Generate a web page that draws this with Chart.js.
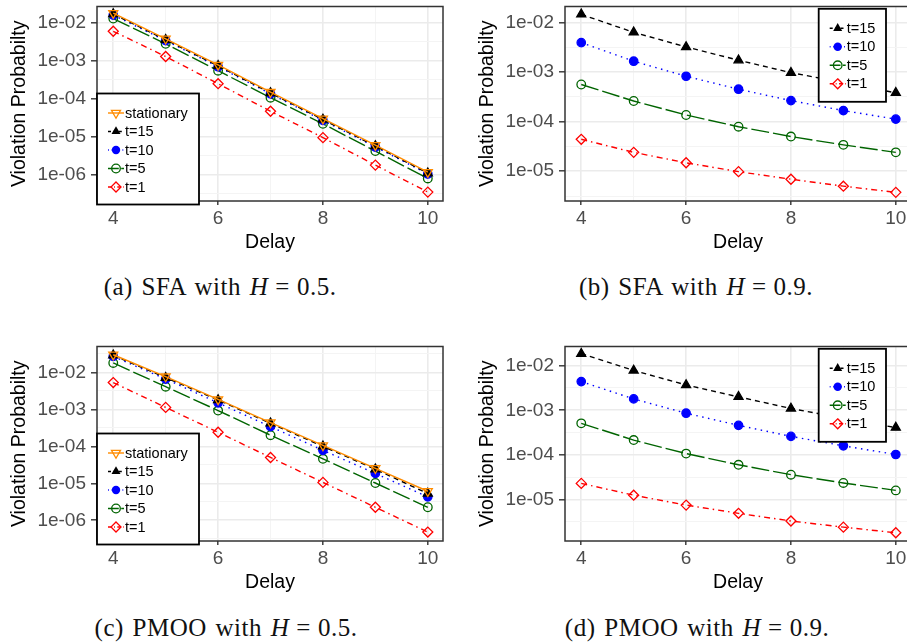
<!DOCTYPE html>
<html lang="en">
<head>
<meta charset="UTF-8">
<title>Violation probability vs delay</title>
<script src="https://cdn.jsdelivr.net/npm/chart.js@4/dist/chart.umd.min.js"></script>
<style>
    html, body { margin: 0; padding: 0; background: #fff; }
    body { width: 907px; height: 643px; position: relative; overflow: hidden; }
    canvas { position: absolute; }
    .cap {
        position: absolute; width: 440px; text-align: center;
        font-family: "Liberation Serif", "DejaVu Serif", serif;
        font-size: 25px; line-height: 28px; color: #111;
        word-spacing: 2px; letter-spacing: 0.5px;
    }
    .cap .eq { margin: 0 7px; }
</style>
</head>
<body>
<canvas id="sfa05" width="453" height="258" style="left:0;top:0"></canvas>
<canvas id="sfa09" width="453" height="258" style="left:468px;top:0"></canvas>
<canvas id="pmoo05" width="453" height="258" style="left:0;top:340px"></canvas>
<canvas id="pmoo09" width="453" height="258" style="left:468px;top:340px"></canvas>

<div class="cap" style="left:0;top:273px">(a) SFA with <i>H</i><span class="eq">=</span>0.5.</div>
<div class="cap" style="left:476px;top:273px">(b) SFA with <i>H</i><span class="eq">=</span>0.9.</div>
<div class="cap" style="left:6px;top:614px">(c) PMOO with <i>H</i><span class="eq">=</span>0.5.</div>
<div class="cap" style="left:477px;top:614px">(d) PMOO with <i>H</i><span class="eq">=</span>0.9.</div>

<script>
// x values (delay)
const delays = [4, 5, 6, 7, 8, 9, 10];

// (a) SFA, H = 0.5
const sfa05Stationary = [1.8e-2, 3.8e-3, 7.8e-4, 1.5e-4, 3.0e-5, 6.0e-6, 1.17e-6];
const sfa05T15 = [1.7e-2, 3.6e-3, 7.4e-4, 1.42e-4, 2.85e-5, 5.7e-6, 1.1e-6];
const sfa05T10 = [1.6e-2, 3.4e-3, 7.0e-4, 1.35e-4, 2.7e-5, 5.4e-6, 1.05e-6];
const sfa05T5  = [1.3e-2, 2.8e-3, 5.5e-4, 1.07e-4, 2.2e-5, 4.2e-6, 8.0e-7];
const sfa05T1  = [6.0e-3, 1.3e-3, 2.5e-4, 4.7e-5, 9.5e-6, 1.8e-6, 3.5e-7];

// (b) SFA, H = 0.9
const sfa09T15 = [1.45e-2, 6.3e-3, 3.2e-3, 1.73e-3, 9.7e-4, 6.1e-4, 3.8e-4];
const sfa09T10 = [3.9e-3, 1.65e-3, 8.2e-4, 4.5e-4, 2.65e-4, 1.67e-4, 1.12e-4];
const sfa09T5  = [5.6e-4, 2.6e-4, 1.36e-4, 7.9e-5, 5.0e-5, 3.4e-5, 2.4e-5];
const sfa09T1  = [4.4e-5, 2.4e-5, 1.48e-5, 9.8e-6, 6.9e-6, 5.0e-6, 3.75e-6];

// (c) PMOO, H = 0.5
const pmoo05Stationary = [3.0e-2, 7.7e-3, 1.85e-3, 4.4e-4, 1.06e-4, 2.55e-5, 6.1e-6];
const pmoo05T15 = [2.9e-2, 7.2e-3, 1.8e-3, 4.2e-4, 1.0e-4, 2.4e-5, 5.3e-6];
const pmoo05T10 = [2.7e-2, 6.6e-3, 1.5e-3, 3.4e-4, 7.8e-5, 1.85e-5, 4.3e-6];
const pmoo05T5  = [1.8e-2, 4.1e-3, 9.3e-4, 2.0e-4, 4.6e-5, 1.02e-5, 2.25e-6];
const pmoo05T1  = [5.3e-3, 1.13e-3, 2.4e-4, 5.0e-5, 1.06e-5, 2.25e-6, 4.8e-7];

// (d) PMOO, H = 0.9
const pmoo09T15 = [1.86e-2, 7.8e-3, 3.7e-3, 2.0e-3, 1.1e-3, 6.6e-4, 4.1e-4];
const pmoo09T10 = [4.4e-3, 1.8e-3, 8.6e-4, 4.6e-4, 2.6e-4, 1.6e-4, 1.02e-4];
const pmoo09T5  = [5.1e-4, 2.15e-4, 1.07e-4, 6.0e-5, 3.6e-5, 2.35e-5, 1.6e-5];
const pmoo09T1  = [2.3e-5, 1.25e-5, 7.5e-6, 4.9e-6, 3.3e-6, 2.4e-6, 1.8e-6];

// tick labels
const yTickValues = [1e-6, 1e-5, 1e-4, 1e-3, 1e-2];
const yTickLabels = ['1e-06', '1e-05', '1e-04', '1e-03', '1e-02'];
const xTickValues = [4, 6, 8, 10];
const xTickLabels = ['4', '6', '8', '10'];

// series look, ggplot-ish
const styles = {
    stationary: { label: 'stationary', color: '#FF8C00', dash: [], marker: 'triangle', rot: 180, r: 5.2, filled: false },
    t15: { label: 't=15', color: '#000000', dash: [5, 4], marker: 'triangle', rot: 0, r: 5.2, filled: true },
    t10: { label: 't=10', color: '#0000FF', dash: [1.5, 4.5], marker: 'circle', rot: 0, r: 4.2, filled: true },
    t5:  { label: 't=5', color: '#006400', dash: [18, 4], marker: 'circle', rot: 0, r: 4.3, filled: false },
    t1:  { label: 't=1', color: '#FF0000', dash: [6, 4, 1.5, 4], marker: 'rectRot', rot: 0, r: 5, filled: false }
};

function series(key, values) {
    const s = styles[key];
    return {
        label: s.label,
        data: delays.map((d, i) => ({ x: d, y: values[i] })),
        borderColor: s.color,
        borderWidth: 1.4,
        borderDash: s.dash,
        pointStyle: s.marker,
        rotation: s.rot,
        pointRadius: s.r,
        pointBorderWidth: 1.3,
        pointBorderColor: s.color,
        pointBackgroundColor: s.filled ? s.color : 'rgba(0,0,0,0)',
        fill: false,
        tension: 0
    };
}

function drawMarker(ctx, s, x, y) {
    ctx.save();
    ctx.setLineDash([]);
    ctx.lineWidth = 1.3;
    ctx.strokeStyle = s.color;
    ctx.fillStyle = s.color;
    ctx.beginPath();
    if (s.marker === 'circle') {
        ctx.arc(x, y, s.r, 0, Math.PI * 2);
    } else if (s.marker === 'triangle') {
        let a = s.rot * Math.PI / 180;
        for (let k = 0; k < 3; k++) {
            const px = x + Math.sin(a) * s.r, py = y - Math.cos(a) * s.r;
            k === 0 ? ctx.moveTo(px, py) : ctx.lineTo(px, py);
            a += Math.PI * 2 / 3;
        }
        ctx.closePath();
    } else {
        ctx.moveTo(x, y - s.r); ctx.lineTo(x + s.r, y);
        ctx.lineTo(x, y + s.r); ctx.lineTo(x - s.r, y);
        ctx.closePath();
    }
    if (s.filled) ctx.fill(); else ctx.stroke();
    ctx.restore();
}

// panel border on top of the data, then the boxed legend
const panelFrame = {
    id: 'panelFrame',
    afterDatasetsDraw(chart, args, opts) {
        const { ctx, chartArea: a } = chart;
        ctx.save();
        ctx.strokeStyle = '#333333';
        ctx.lineWidth = 1.5;
        ctx.strokeRect(a.left, a.top, a.right - a.left, a.bottom - a.top);

        const box = opts.box;
        const bx = a.left + box.x, by = a.top + box.y;
        ctx.fillStyle = '#ffffff';
        ctx.fillRect(bx, by, box.w, box.h);
        ctx.strokeStyle = '#000000';
        ctx.lineWidth = 1.8;
        ctx.strokeRect(bx, by, box.w, box.h);
        ctx.font = '14.5px "Liberation Sans", Arial, sans-serif';
        ctx.textBaseline = 'middle';
        opts.keys.forEach((key, i) => {
            const s = styles[key];
            const y = by + 19.5 + i * 18.5;
            ctx.save();
            ctx.strokeStyle = s.color;
            ctx.lineWidth = 1.4;
            ctx.setLineDash(s.dash.map(v => v * 0.6));
            ctx.beginPath();
            ctx.moveTo(bx + 11, y);
            ctx.lineTo(bx + 27, y);
            ctx.stroke();
            ctx.restore();
            drawMarker(ctx, s, bx + 19, y);
            ctx.fillStyle = '#000000';
            ctx.fillText(s.label, bx + 28, y + 0.5);
        });
        ctx.restore();
    }
};

function isDecade(v) {
    const l = Math.log10(v);
    return Math.abs(l - Math.round(l)) < 1e-6;
}

function makeChart(id, keys, valueSets, yLogMin, yLogMax, box) {
    const yAll = [];
    for (let e = Math.floor(yLogMin * 2) / 2; e <= yLogMax + 1e-9; e += 0.5) {
        if (e >= yLogMin) yAll.push(Math.pow(10, e));
    }
    return new Chart(document.getElementById(id), {
        type: 'line',
        data: { datasets: keys.map((k, i) => series(k, valueSets[i])) },
        plugins: [panelFrame],
        options: {
            responsive: false,
            animation: false,
            events: [],
            layout: { padding: { top: 3, right: 10, left: 0, bottom: 0 } },
            plugins: {
                legend: { display: false },
                tooltip: { enabled: false },
                panelFrame: { keys: keys, box: box }
            },
            scales: {
                x: {
                    type: 'linear',
                    min: 3.69, max: 10.29,
                    bounds: 'data',
                    afterBuildTicks: s => { s.ticks = delays.map(v => ({ value: v })); },
                    afterFit: s => { s.height = 57; s.paddingLeft = 0; s.paddingRight = 0; },
                    ticks: {
                        autoSkip: false, maxRotation: 0, padding: 2,
                        color: '#4D4D4D',
                        font: { family: '"Liberation Sans", Arial, sans-serif', size: 19 },
                        callback: v => {
                            const i = xTickValues.indexOf(v);
                            return i >= 0 ? xTickLabels[i] : '';
                        }
                    },
                    grid: {
                        color: c => xTickValues.includes(c.tick.value) ? '#EBEBEB' : '#F4F4F4',
                        lineWidth: c => xTickValues.includes(c.tick.value) ? 1.6 : 1,
                        tickColor: c => xTickValues.includes(c.tick.value) ? '#333333' : 'rgba(0,0,0,0)',
                        tickLength: 4,
                        tickWidth: 1.4
                    },
                    border: { display: false },
                    title: {
                        display: true, text: 'Delay', color: '#000',
                        font: { family: '"Liberation Sans", Arial, sans-serif', size: 19.5 },
                        padding: { top: 0, bottom: 4 }
                    }
                },
                y: {
                    type: 'logarithmic',
                    min: Math.pow(10, yLogMin), max: Math.pow(10, yLogMax),
                    bounds: 'data',
                    afterBuildTicks: s => { s.ticks = yAll.map(v => ({ value: v })); },
                    afterFit: s => { s.width = 97; s.paddingTop = 0; s.paddingBottom = 0; },
                    ticks: {
                        autoSkip: false, padding: 5,
                        color: '#4D4D4D',
                        font: { family: '"Liberation Sans", Arial, sans-serif', size: 19 },
                        callback: v => {
                            const i = yTickValues.findIndex(t => Math.abs(Math.log10(t) - Math.log10(v)) < 1e-6);
                            return i >= 0 ? yTickLabels[i] : '';
                        }
                    },
                    grid: {
                        color: c => isDecade(c.tick.value) ? '#EBEBEB' : '#F4F4F4',
                        lineWidth: c => isDecade(c.tick.value) ? 1.6 : 1,
                        tickColor: c => isDecade(c.tick.value) ? '#333333' : 'rgba(0,0,0,0)',
                        tickLength: 6,
                        tickWidth: 1.4
                    },
                    border: { display: false },
                    title: {
                        display: true, text: 'Violation Probabilty', color: '#000',
                        font: { family: '"Liberation Sans", Arial, sans-serif', size: 19.5 },
                        padding: { top: 8, bottom: 0 }
                    }
                }
            }
        }
    });
}

const keysH05 = ['stationary', 't15', 't10', 't5', 't1'];
const keysH09 = ['t15', 't10', 't5', 't1'];
const boxH05 = { x: 0, y: 87, w: 102, h: 111 };
const boxH09 = { x: 253.7, y: 2.3, w: 67.3, h: 93 };

makeChart('sfa05', keysH05, [sfa05Stationary, sfa05T15, sfa05T10, sfa05T5, sfa05T1], -6.69, -1.57, boxH05);
makeChart('sfa09', keysH09, [sfa09T15, sfa09T10, sfa09T5, sfa09T1], -5.6, -1.68, boxH09);
makeChart('pmoo05', keysH05, [pmoo05Stationary, pmoo05T15, pmoo05T10, pmoo05T5, pmoo05T1], -6.56, -1.30, boxH05);
makeChart('pmoo09', keysH09, [pmoo09T15, pmoo09T10, pmoo09T5, pmoo09T1], -5.93, -1.57, boxH09);
</script>
</body>
</html>
